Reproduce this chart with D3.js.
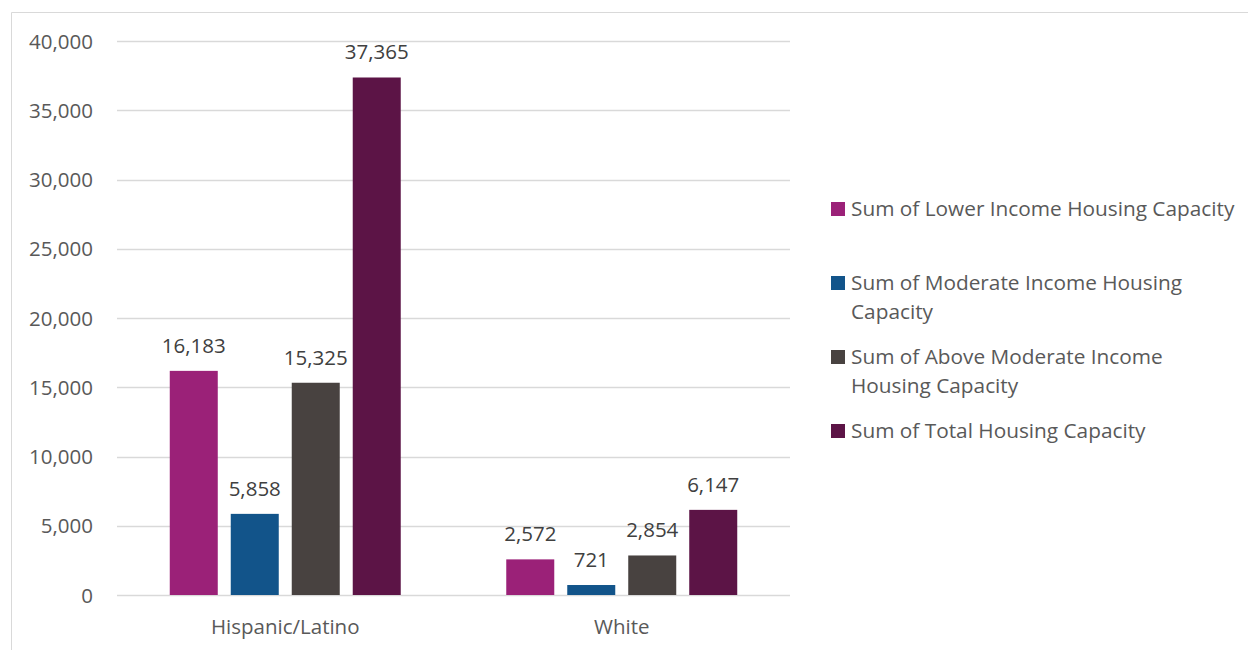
<!DOCTYPE html>
<html><head><meta charset="utf-8">
<script src="https://cdn.jsdelivr.net/npm/d3@7"></script>
<style>html,body{margin:0;padding:0;background:#fff;}svg{display:block;}</style>
</head><body>
<svg id="chart" width="1248" height="650"></svg>
<script>
const categories = ["Hispanic/Latino", "White"];
const seriesNames = [
  "Sum of Lower Income Housing Capacity",
  "Sum of Moderate Income Housing Capacity",
  "Sum of Above Moderate Income Housing Capacity",
  "Sum of Total Housing Capacity"
];
const lowerIncome = [16183, 2572];
const moderateIncome = [5858, 721];
const aboveModerate = [15325, 2854];
const totalCapacity = [37365, 6147];
const yTicks = [0, 5000, 10000, 15000, 20000, 25000, 30000, 35000, 40000];
const colors = ["#9b2178", "#12548a", "#484240", "#5c1446"];

(function () {
const seriesValues = [lowerIncome, moderateIncome, aboveModerate, totalCapacity];
const svg = d3.select("#chart");
const FONT = "'Open Sans', sans-serif";

// outer frame
svg.append("path").attr("d", "M11.5,650 V12.5 H1248").attr("fill", "none").attr("stroke", "#d9d9d9");

const pLeft = 117, pRight = 790, pTop = 41, pBottom = 595;
const y = d3.scaleLinear().domain([0, 40000]).range([pBottom, pTop]);
const x0 = d3.scaleBand().domain(categories).range([pLeft, pRight]).padding(0);
const x1 = d3.scaleBand().domain(d3.range(seriesNames.length)).range([0, x0.bandwidth()])
  .paddingInner(0.213).paddingOuter(0.865);

// gridlines
svg.append("g").selectAll("line").data(yTicks).join("line")
  .attr("x1", pLeft).attr("x2", pRight)
  .attr("y1", d => Math.round(y(d)) + 0.5).attr("y2", d => Math.round(y(d)) + 0.5)
  .attr("stroke", "#d9d9d9").attr("stroke-width", 1.3);

// y axis labels
const yAxis = d3.axisLeft(y).tickValues(yTicks).tickFormat(d3.format(",")).tickSize(0).tickPadding(0);
const ya = svg.append("g").attr("transform", "translate(93,0)").call(yAxis);
ya.select(".domain").remove();
ya.selectAll("text").attr("font-family", FONT).attr("font-size", 20.5).attr("fill", "#595959").attr("dy", "0.35em");

// bars
const fmt = d3.format(",");
const groups = svg.append("g").selectAll("g").data(categories).join("g")
  .attr("transform", d => `translate(${x0(d)},0)`);
groups.each(function(cat, ci) {
  const g = d3.select(this);
  seriesValues.forEach((vals, si) => {
    const v = vals[ci];
    g.append("rect")
      .attr("x", x1(si)).attr("width", x1.bandwidth())
      .attr("y", y(v)).attr("height", y(0) - y(v))
      .attr("fill", colors[si]);
    g.append("text")
      .attr("x", x1(si) + x1.bandwidth() / 2).attr("y", y(v) - 18)
      .attr("text-anchor", "middle")
      .attr("font-family", FONT).attr("font-size", 20.5).attr("fill", "#404040")
      .text(fmt(v));
  });
});

// x axis labels
const xAxis = d3.axisBottom(x0).tickSize(0).tickPadding(0);
const xa = svg.append("g").attr("transform", `translate(0,${pBottom})`).call(xAxis);
xa.select(".domain").remove();
xa.selectAll("text").attr("font-family", FONT).attr("font-size", 20.5).attr("fill", "#595959")
  .attr("dy", 0).attr("y", 39);

// legend
const legend = svg.append("g").attr("transform", "translate(831,0)");
const legendY = [209, 283, 357, 431];
const maxW = 388;
seriesNames.forEach((name, i) => {
  const g = legend.append("g").attr("transform", `translate(0,${legendY[i]})`);
  g.append("rect").attr("x", 0).attr("y", -7).attr("width", 14).attr("height", 14).attr("fill", colors[i]);
  const t = g.append("text").attr("font-family", FONT).attr("font-size", 20.8).attr("fill", "#595959");
  const words = name.split(" ");
  let lines = [], cur = [];
  const probe = t.append("tspan");
  words.forEach(w => {
    const test = cur.concat([w]).join(" ");
    probe.text(test);
    if (probe.node().getComputedTextLength() > maxW && cur.length) { lines.push(cur.join(" ")); cur = [w]; }
    else cur.push(w);
  });
  lines.push(cur.join(" "));
  probe.remove();
  lines.forEach((ln, li) => {
    t.append("tspan").attr("x", 20).attr("y", li * 29).attr("dy", "0.35em").text(ln);
  });
});
})();
</script>
</body></html>
